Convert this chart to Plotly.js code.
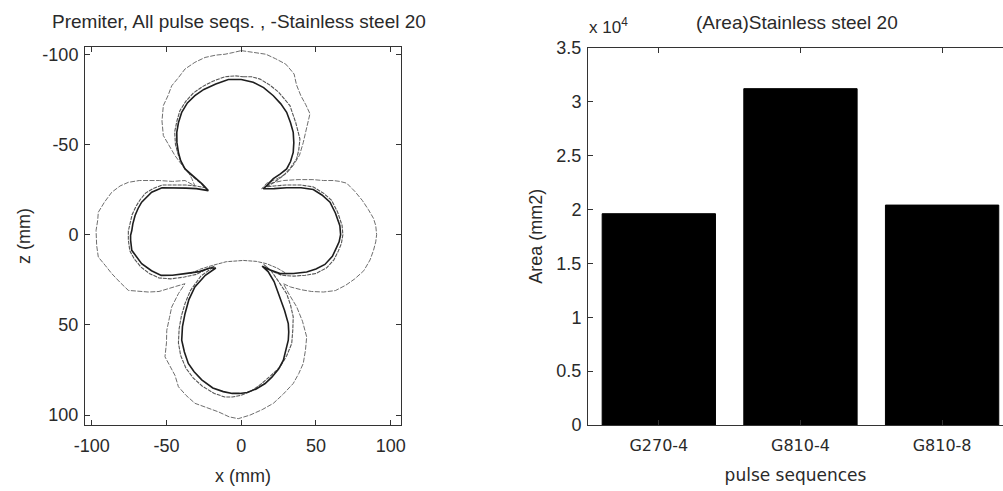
<!DOCTYPE html>
<html>
<head>
<meta charset="utf-8">
<script src="https://cdn.plot.ly/plotly-3.0.1.min.js"></script>
<style>
html,body{margin:0;padding:0;background:#fff;overflow:hidden}
#chart{width:1003px;height:491px}
</style>
</head>
<body>
<div id="chart"></div>
<script>
// ---------- Left panel: contour curves (x, z in mm) ----------
const innerX = [0,8,15,21.5,26.5,30.4,33,34.8,35.2,34.8,33,30.4,26,21.5,18,14.8,
  22,30.4,40,48.2,54,59.4,63,66,66.5,65.5,63.9,61,56,50,43.8,35,26,19,14,
  18,22,26,29,31.5,31.8,31.5,30,28.2,25,20.5,16,10,4,-1,-6,-12,-19,-26.4,-31.5,-35.4,-38,-39.8,-39.3,-37.6,-35,-31,-24,-17,
  -21,-28,-37.6,-46,-53.5,-60,-66.6,-70.5,-73.2,-74,-74,-73.2,-72.5,-71,-69,-66.6,-63,-59.9,-53,-45,-37,-30,-22,
  -26,-30,-34,-37.6,-40.5,-42,-43,-43.1,-42,-39.8,-36,-31,-25,-17,-8.6,0];
const innerZ = [-86,-84.5,-81.5,-77,-72.5,-67.8,-62,-56.7,-51,-45.6,-40.5,-36.4,-33.5,-31,-28,-25.4,
  -25.5,-26,-26,-25,-22,-18,-12,-5,0,4,6.9,12,16.5,19,20.7,21.5,21.6,19.5,17.5,
  20.5,26,34.6,42,49.3,54,58.5,64,69.6,74.5,79,82.5,85.5,87.5,88,88,87,85,80.5,76,71.4,65,58.5,51,43.8,36,29,22.5,18.5,
  18.5,20.5,21.6,22.5,22.6,20,16.1,12,8.7,3,0.4,-2.3,-6,-10.6,-14.5,-18,-21,-23.5,-26,-26,-25.8,-25.5,-24.4,
  -28,-31,-34,-36.4,-41,-45.6,-51,-56.7,-62,-67.8,-73,-77,-80.5,-83.5,-86,-86];

const middleX = [1.4,7,12.6,19,25,29,32.6,36.5,39.3,38.5,37.1,33,28.2,22,17,
  22,30,40,48,55,60.5,64.5,67.5,68,67,65,62,57,50,43,35,27,20,15,
  20,25,30.4,33,34.8,34.5,33.8,30.5,26,20,13,7,0,-6,-11,-18,-26,-32,-37,-40.5,-42,-41.5,-40,-37.5,-34,-27,-18,
  -24,-30,-38,-47,-55,-61.5,-67,-71.5,-74.5,-75.5,-75.5,-74.5,-73,-70.5,-67.5,-64,-59,-53,-45,-37,-30,-24,
  -27,-30,-35,-39,-42,-44,-44.5,-43,-41,-37,-32,-26,-19,-11,-4,1.4];
const middleZ = [-87.5,-87.5,-86.2,-83,-79,-75,-71.5,-62,-53,-47,-42,-37,-32.7,-29,-26.5,
  -27,-27.5,-27.5,-26.5,-23,-19,-12.5,-5,0,5,9,14,18.5,21.5,22.5,23,22.5,20,16.5,
  20,26,32.7,39,45.6,53,60.3,67,73.3,78,83,86.5,89,90,90,88,84,79.5,74,67,60,52,45,38,31,23,17.5,
  19.5,22,23.5,24.5,24,21.5,18,13.5,9,3,-2,-6.5,-11,-15.5,-19.5,-23,-25.5,-27.5,-27.5,-27.5,-27,-26,
  -28.5,-30.5,-34,-38,-44,-50,-57,-63,-68.7,-74,-78.5,-82,-85,-87.5,-88,-87.5];

const arcX = [-34,-27,-19,-10,1.4,10,17,24,30.4];
const arcZ = [21.6,19,17,15,14.3,14.8,16.1,18.5,21.6];

const outerX = [0,5,10.4,16.5,23,29.8,32.6,35.4,37,39.9,43.2,46,44,41.5,39,34.8,30.4,24,17,13.7,
  20,28.2,38,48,55,61.6,66,70.6,76,81,85,88.5,90,90.6,90,88.5,86.2,82,76,70,63,55,47,40,33,28.2,
  32,37.1,41,43.8,43,41.5,38.5,34.8,28,21.5,14,5.9,-2,-8,-15.3,-23,-30.9,-37,-42,-44.3,-48,-51,-50,-49.8,-48,-46.5,-42,-37.6,
  -43,-48.8,-55,-62.1,-69,-75.5,-81,-86.6,-91,-95.6,-96.7,-96.7,-97.1,-96,-95.6,-91.5,-86.6,-81,-75.5,-68.2,-61,-54.8,-46,-37.6,-31,
  -33,-35.4,-40,-44.3,-48,-52.1,-53,-52.1,-49,-46.5,-42,-37.6,-31,-24.2,-17,-10.8,-5,0];
const outerZ = [-102,-101.5,-101,-100,-97.5,-94.5,-91.8,-89,-83,-77,-72,-67,-60,-51,-44,-38.3,-34,-31,-28.5,-25.4,
  -28.5,-30,-30.5,-30.5,-30,-30,-29.5,-28.5,-24,-19,-14,-9,-5,0,4,8.7,14,20,24.5,28,31,31.8,31.5,30.5,29,27.2,
  33,40,48,56.7,64,71.4,77,82.5,88.5,93.5,97,100,102,101,98.2,96,93.5,89,84.3,78,72,67.7,60,53,46,40.1,32.7,27.2,
  28.5,29.9,31.5,31.8,31.5,30.9,26.5,21.6,17,12.4,6,1.4,-2.3,-8,-12.4,-18,-23.5,-27,-29,-30,-30,-30,-29.5,-30,-27,
  -31,-34.6,-39,-43.8,-49,-54.9,-63,-71.5,-77,-82.5,-87,-91.8,-95.5,-98.2,-99.5,-100,-101,-102];

const mmTickVals = [-100,-50,0,50,100];
const mmTickText = ['-100','-50','0','50','100'];

// ---------- Right panel: bar chart ----------
const categories = ['G270-4','G810-4','G810-8'];
const areaValues = [19600, 31200, 20400];
const areaTickVals = [0,5000,10000,15000,20000,25000,30000,35000];
const areaTickText = ['0','0.5','1','1.5','2','2.5','3','3.5'];

const W = 1003, H = 491;
const FONT = 'Liberation Sans, Arial, sans-serif';
const TXT = '#2a2a2a';

const traces = [
  {x: outerX, y: outerZ, type: 'scatter', mode: 'lines', xaxis: 'x', yaxis: 'y',
   line: {color: '#6e6e6e', width: 1, dash: '5px,1.5px'}, hoverinfo: 'skip'},
  {x: middleX, y: middleZ, type: 'scatter', mode: 'lines', xaxis: 'x', yaxis: 'y',
   line: {color: '#555', width: 1.1, dash: '4px,1px'}, hoverinfo: 'skip'},
  {x: arcX, y: arcZ, type: 'scatter', mode: 'lines', xaxis: 'x', yaxis: 'y',
   line: {color: '#666', width: 1, dash: '4px,1px'}, hoverinfo: 'skip'},
  {x: innerX, y: innerZ, type: 'scatter', mode: 'lines', xaxis: 'x', yaxis: 'y',
   line: {color: '#1e1e1e', width: 1.6}, hoverinfo: 'skip'},
  {x: categories, y: areaValues, type: 'bar', xaxis: 'x2', yaxis: 'y2', width: 0.8,
   marker: {color: '#000', line: {color: '#000', width: 1}}}
];

const axisCommon = {
  showgrid: false, zeroline: false, showline: true, linecolor: '#333', linewidth: 1,
  ticks: 'inside', ticklen: 5, tickcolor: '#333', tickfont: {family: FONT, size: 18, color: TXT},
  automargin: false, fixedrange: true
};

const layout = {
  width: W, height: H, autosize: false,
  margin: {l: 0, r: 0, t: 0, b: 0},
  paper_bgcolor: '#fff', plot_bgcolor: '#fff',
  showlegend: false,
  font: {family: FONT, color: TXT},
  xaxis: Object.assign({}, axisCommon, {
    domain: [85 / W, 401 / W], range: [-104.5, 106.9], mirror: 'ticks',
    tickmode: 'array', tickvals: mmTickVals, ticktext: mmTickText, ticklabelstandoff: 4,
    title: {text: 'x (mm)', font: {family: FONT, size: 18, color: TXT}, standoff: 14},
    anchor: 'y'
  }),
  yaxis: Object.assign({}, axisCommon, {
    domain: [(H - 425) / H, (H - 47) / H], range: [105.5, -104], mirror: 'ticks',
    tickmode: 'array', tickvals: mmTickVals, ticktext: mmTickText, ticklabelstandoff: 2,
    title: {text: 'z (mm)', font: {family: FONT, size: 18, color: TXT}, standoff: 7},
    anchor: 'x'
  }),
  xaxis2: Object.assign({}, axisCommon, {
    domain: [588 / W, 1], range: [-0.5, 2.43], mirror: 'ticks', type: 'category',
    tickfont: {family: 'DejaVu Sans, sans-serif', size: 16, color: TXT}, ticklabelstandoff: 6,
    title: {text: 'pulse sequences', font: {family: 'DejaVu Sans, sans-serif', size: 17, color: TXT}, standoff: 14},
    anchor: 'y2'
  }),
  yaxis2: Object.assign({}, axisCommon, {
    domain: [(H - 425) / H, (H - 47.7) / H], range: [0, 35000], mirror: false,
    tickmode: 'array', tickvals: areaTickVals, ticktext: areaTickText, ticklabelstandoff: 2,
    title: {text: 'Area (mm2)', font: {family: FONT, size: 18, color: TXT}, standoff: 9},
    anchor: 'x2'
  }),
  annotations: [
    {text: 'Premiter, All pulse seqs. , -Stainless steel 20', xref: 'paper', yref: 'paper',
     x: 239 / W, y: 1 - 21 / H, xanchor: 'center', yanchor: 'middle', showarrow: false,
     font: {family: FONT, size: 19, color: TXT}},
    {text: '(Area)Stainless steel 20', xref: 'paper', yref: 'paper',
     x: 797 / W, y: 1 - 23 / H, xanchor: 'center', yanchor: 'middle', showarrow: false,
     font: {family: FONT, size: 19, color: TXT}},
    {text: 'x 10<sup>4</sup>', xref: 'paper', yref: 'paper',
     x: 587 / W, y: 1 - 26 / H, xanchor: 'left', yanchor: 'middle', showarrow: false,
     font: {family: FONT, size: 17, color: TXT}}
  ]
};

Plotly.newPlot('chart', traces, layout, {displayModeBar: false, staticPlot: true});
</script>
</body>
</html>
